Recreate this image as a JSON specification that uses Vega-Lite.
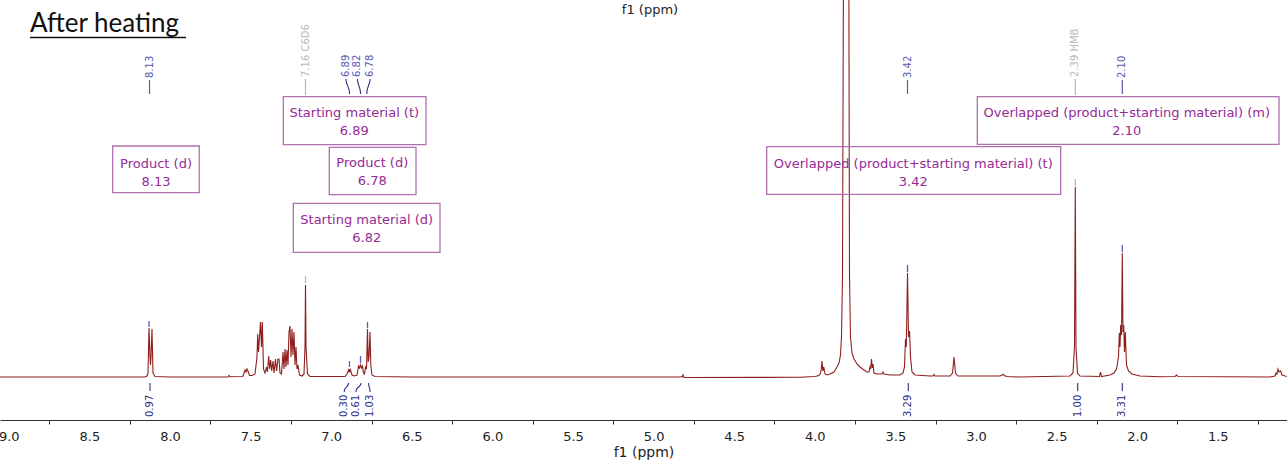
{
  "$schema": "https://vega.github.io/schema/vega-lite/v6.json",
  "width": 1287,
  "height": 420,
  "autosize": {"type": "none"},
  "padding": {"left": 0, "right": 0, "top": 0, "bottom": 43},
  "background": "white",
  "config": {"view": {"stroke": null}, "font": "DejaVu Sans"},
  "datasets": {
    "spec": [
      {"ppm": 9.1, "i": 0}, {"ppm": 8.1551, "i": 0}, {"ppm": 8.1427, "i": 1}, {"ppm": 8.1365, "i": 4}, {"ppm": 8.1303, "i": 49}, {"ppm": 8.1241, "i": 20}, {"ppm": 8.121, "i": 12}, {"ppm": 8.1179, "i": 20}, {"ppm": 8.1117, "i": 48}, {"ppm": 8.1055, "i": 4}, {"ppm": 8.0931, "i": 0.5}, {"ppm": 8.0, "i": 0},
      {"ppm": 7.6402, "i": 0}, {"ppm": 7.634, "i": 1.5}, {"ppm": 7.6278, "i": 0.3}, {"ppm": 7.5533, "i": 0.5}, {"ppm": 7.5471, "i": 1}, {"ppm": 7.5347, "i": 7}, {"ppm": 7.5285, "i": 5}, {"ppm": 7.5223, "i": 8}, {"ppm": 7.5161, "i": 6}, {"ppm": 7.5068, "i": 1.5}, {"ppm": 7.4913, "i": 1.5},
      {"ppm": 7.4727, "i": 3}, {"ppm": 7.4603, "i": 20}, {"ppm": 7.4559, "i": 43}, {"ppm": 7.451, "i": 25}, {"ppm": 7.4448, "i": 40}, {"ppm": 7.4386, "i": 55}, {"ppm": 7.4324, "i": 30}, {"ppm": 7.4274, "i": 55}, {"ppm": 7.42, "i": 8}, {"ppm": 7.4107, "i": 4},
      {"ppm": 7.4014, "i": 10}, {"ppm": 7.3952, "i": 5}, {"ppm": 7.3877, "i": 21}, {"ppm": 7.3815, "i": 8}, {"ppm": 7.3753, "i": 17}, {"ppm": 7.3691, "i": 6}, {"ppm": 7.361, "i": 16}, {"ppm": 7.3548, "i": 4}, {"ppm": 7.3455, "i": 18}, {"ppm": 7.3393, "i": 6}, {"ppm": 7.33, "i": 18}, {"ppm": 7.3238, "i": 18}, {"ppm": 7.3176, "i": 4}, {"ppm": 7.3083, "i": 3},
      {"ppm": 7.299, "i": 25}, {"ppm": 7.2928, "i": 8}, {"ppm": 7.2866, "i": 28}, {"ppm": 7.2804, "i": 10}, {"ppm": 7.2742, "i": 27}, {"ppm": 7.268, "i": 12}, {"ppm": 7.2618, "i": 45}, {"ppm": 7.2556, "i": 51}, {"ppm": 7.2494, "i": 20}, {"ppm": 7.2432, "i": 48}, {"ppm": 7.237, "i": 22}, {"ppm": 7.2308, "i": 45}, {"ppm": 7.2246, "i": 12}, {"ppm": 7.2184, "i": 30}, {"ppm": 7.2122, "i": 8}, {"ppm": 7.206, "i": 12}, {"ppm": 7.1966, "i": 2}, {"ppm": 7.1811, "i": 1},
      {"ppm": 7.1687, "i": 3}, {"ppm": 7.1625, "i": 30}, {"ppm": 7.1594, "i": 92}, {"ppm": 7.1563, "i": 30}, {"ppm": 7.147, "i": 3}, {"ppm": 7.1315, "i": 0.5},
      {"ppm": 6.9144, "i": 0.5}, {"ppm": 6.902, "i": 3}, {"ppm": 6.8927, "i": 7}, {"ppm": 6.8896, "i": 5}, {"ppm": 6.8865, "i": 8}, {"ppm": 6.8834, "i": 5}, {"ppm": 6.8803, "i": 7}, {"ppm": 6.871, "i": 2}, {"ppm": 6.8586, "i": 1},
      {"ppm": 6.84, "i": 2}, {"ppm": 6.8307, "i": 11}, {"ppm": 6.8245, "i": 9}, {"ppm": 6.8182, "i": 12}, {"ppm": 6.812, "i": 9}, {"ppm": 6.8058, "i": 11}, {"ppm": 6.7996, "i": 4}, {"ppm": 6.7934, "i": 3},
      {"ppm": 6.7872, "i": 10}, {"ppm": 6.781, "i": 8}, {"ppm": 6.7748, "i": 48}, {"ppm": 6.7705, "i": 15}, {"ppm": 6.7655, "i": 20}, {"ppm": 6.7593, "i": 45}, {"ppm": 6.7543, "i": 12}, {"ppm": 6.7469, "i": 2}, {"ppm": 6.7283, "i": 0.5}, {"ppm": 6.5, "i": 0},
      {"ppm": 4.8362, "i": 0}, {"ppm": 4.8207, "i": 0.5}, {"ppm": 4.8176, "i": 3}, {"ppm": 4.8145, "i": 0}, {"ppm": 4.8052, "i": -0.5}, {"ppm": 4.0918, "i": -0.3}, {"ppm": 3.9988, "i": 0.5}, {"ppm": 3.9739, "i": 1.5},
      {"ppm": 3.9646, "i": 4}, {"ppm": 3.9597, "i": 8}, {"ppm": 3.9553, "i": 16}, {"ppm": 3.9504, "i": 6}, {"ppm": 3.9442, "i": 10}, {"ppm": 3.9367, "i": 3}, {"ppm": 3.9243, "i": 2},
      {"ppm": 3.9057, "i": 3}, {"ppm": 3.8809, "i": 5}, {"ppm": 3.8623, "i": 10}, {"ppm": 3.8499, "i": 14}, {"ppm": 3.8406, "i": 22}, {"ppm": 3.8344, "i": 40}, {"ppm": 3.8282, "i": 100}, {"ppm": 3.822, "i": 420}, {"ppm": 3.8065, "i": 2000}, {"ppm": 3.7891, "i": 420}, {"ppm": 3.7847, "i": 100}, {"ppm": 3.7785, "i": 40}, {"ppm": 3.7692, "i": 24}, {"ppm": 3.7568, "i": 18}, {"ppm": 3.7382, "i": 13}, {"ppm": 3.7196, "i": 10}, {"ppm": 3.6948, "i": 7}, {"ppm": 3.6762, "i": 5},
      {"ppm": 3.6638, "i": 5}, {"ppm": 3.6576, "i": 10}, {"ppm": 3.6532, "i": 8}, {"ppm": 3.6483, "i": 18}, {"ppm": 3.6433, "i": 9}, {"ppm": 3.639, "i": 13}, {"ppm": 3.6328, "i": 4}, {"ppm": 3.6141, "i": 3},
      {"ppm": 3.5831, "i": 3}, {"ppm": 3.5769, "i": 5}, {"ppm": 3.5707, "i": 3}, {"ppm": 3.5335, "i": 2}, {"ppm": 3.4715, "i": 2}, {"ppm": 3.4529, "i": 4},
      {"ppm": 3.4436, "i": 10}, {"ppm": 3.4373, "i": 38}, {"ppm": 3.4324, "i": 30}, {"ppm": 3.4249, "i": 104}, {"ppm": 3.4187, "i": 40}, {"ppm": 3.4125, "i": 46}, {"ppm": 3.4063, "i": 20}, {"ppm": 3.397, "i": 5}, {"ppm": 3.3784, "i": 2}, {"ppm": 3.2854, "i": 1},
      {"ppm": 3.2667, "i": 1}, {"ppm": 3.2605, "i": 2.5}, {"ppm": 3.2543, "i": 1}, {"ppm": 3.1613, "i": 1}, {"ppm": 3.1458, "i": 4}, {"ppm": 3.1365, "i": 20}, {"ppm": 3.1272, "i": 4}, {"ppm": 3.1117, "i": 1},
      {"ppm": 2.8511, "i": 1}, {"ppm": 2.8325, "i": 2.5}, {"ppm": 2.8139, "i": 0.5}, {"ppm": 2.7271, "i": 0},
      {"ppm": 2.4169, "i": 1}, {"ppm": 2.3983, "i": 4}, {"ppm": 2.389, "i": 30}, {"ppm": 2.384, "i": 190}, {"ppm": 2.3797, "i": 30}, {"ppm": 2.3704, "i": 4}, {"ppm": 2.3548, "i": 1},
      {"ppm": 2.2339, "i": 0.5}, {"ppm": 2.2277, "i": 5}, {"ppm": 2.2215, "i": 0.5},
      {"ppm": 2.1687, "i": 2}, {"ppm": 2.1439, "i": 4}, {"ppm": 2.1284, "i": 8}, {"ppm": 2.116, "i": 20}, {"ppm": 2.111, "i": 44}, {"ppm": 2.1067, "i": 30}, {"ppm": 2.1024, "i": 52}, {"ppm": 2.0974, "i": 42}, {"ppm": 2.0924, "i": 124}, {"ppm": 2.0881, "i": 45}, {"ppm": 2.0838, "i": 52}, {"ppm": 2.0788, "i": 25}, {"ppm": 2.0738, "i": 45}, {"ppm": 2.0664, "i": 12}, {"ppm": 2.054, "i": 6}, {"ppm": 2.0323, "i": 3}, {"ppm": 1.9826, "i": 1},
      {"ppm": 1.8586, "i": 0.3}, {"ppm": 1.7655, "i": 0.5}, {"ppm": 1.755, "i": 2}, {"ppm": 1.7469, "i": 0.5},
      {"ppm": 1.1762, "i": 0}, {"ppm": 1.1452, "i": 1}, {"ppm": 1.139, "i": 4}, {"ppm": 1.1328, "i": 3}, {"ppm": 1.1266, "i": 8}, {"ppm": 1.1203, "i": 5}, {"ppm": 1.1098, "i": 6}, {"ppm": 1.1017, "i": 2}, {"ppm": 1.0831, "i": 1}, {"ppm": 1.0521, "i": 0.5}
    ],
    "pmarks": [
      {"ppm": 8.1303, "i": 50, "i2": 56, "kind": "peak"},
      {"ppm": 7.1594, "i": 94, "i2": 101, "kind": "ref"},
      {"ppm": 6.8865, "i": 10, "i2": 16, "kind": "peak"},
      {"ppm": 6.8182, "i": 14, "i2": 21, "kind": "peak"},
      {"ppm": 6.7748, "i": 49, "i2": 55, "kind": "peak"},
      {"ppm": 3.4249, "i": 105, "i2": 112, "kind": "peak"},
      {"ppm": 2.384, "i": 191, "i2": 198, "kind": "ref"},
      {"ppm": 2.0924, "i": 125, "i2": 132, "kind": "peak"}
    ],
    "plabels": [
      {"ppm": 8.127, "i": 299, "label": "8.13", "kind": "peak"},
      {"ppm": 7.1594, "i": 300, "label": "7.16 C6D6", "kind": "ref"},
      {"ppm": 6.9082, "i": 300, "label": "6.89", "kind": "peak"},
      {"ppm": 6.8369, "i": 300, "label": "6.82", "kind": "peak"},
      {"ppm": 6.7593, "i": 300, "label": "6.78", "kind": "peak"},
      {"ppm": 3.4249, "i": 299, "label": "3.42", "kind": "peak"},
      {"ppm": 2.384, "i": 300, "label": "2.39 HMB", "kind": "ref"},
      {"ppm": 2.0924, "i": 299, "label": "2.10", "kind": "peak"}
    ],
    "pleads": [
      {"ppm": 8.127, "i": 297, "i2": 283, "kind": "peak"},
      {"ppm": 7.1594, "i": 298, "i2": 282, "kind": "ref"},
      {"ppm": 3.4249, "i": 297, "i2": 283, "kind": "peak"},
      {"ppm": 2.384, "i": 298, "i2": 282, "kind": "ref"},
      {"ppm": 2.0924, "i": 297, "i2": 283, "kind": "peak"}
    ],
    "pcurves": [
      {"id": "a", "ppm": 6.9082, "i": 298}, {"id": "a", "ppm": 6.9082, "i": 295}, {"id": "a", "ppm": 6.8865, "i": 287}, {"id": "a", "ppm": 6.8865, "i": 283},
      {"id": "b", "ppm": 6.8369, "i": 298}, {"id": "b", "ppm": 6.8369, "i": 295}, {"id": "b", "ppm": 6.8182, "i": 287}, {"id": "b", "ppm": 6.8182, "i": 283},
      {"id": "c", "ppm": 6.7593, "i": 298}, {"id": "c", "ppm": 6.7593, "i": 295}, {"id": "c", "ppm": 6.7792, "i": 287}, {"id": "c", "ppm": 6.7792, "i": 283}
    ],
    "boxes": [
      {"ppm": 8.3555, "ppm2": 7.8186, "i": 231, "i2": 184.3},
      {"ppm": 7.2971, "ppm2": 6.4119, "i": 280.3, "i2": 232.3},
      {"ppm": 7.0118, "ppm2": 6.4739, "i": 229.7, "i2": 182.3},
      {"ppm": 7.2351, "ppm2": 6.3251, "i": 173.7, "i2": 124.7},
      {"ppm": 4.2984, "ppm2": 2.4746, "i": 230.3, "i2": 182.7},
      {"ppm": 2.9919, "ppm2": 1.1203, "i": 280.3, "i2": 232.7}
    ],
    "boxtext": [
      {"ppm": 8.0868, "i": 213.5, "label": "Product (d)\n8.13"},
      {"ppm": 6.8567, "i": 264.5, "label": "Starting material (t)\n6.89"},
      {"ppm": 6.745, "i": 213.7, "label": "Product (d)\n6.78"},
      {"ppm": 6.7798, "i": 157, "label": "Starting material (d)\n6.82"},
      {"ppm": 3.3889, "i": 213.5, "label": "Overlapped (product+starting material) (t)\n3.42"},
      {"ppm": 2.065, "i": 263.7, "label": "Overlapped (product+starting material) (m)\n2.10"}
    ],
    "integ": [
      {"ppm": 8.1445, "ppm2": 8.093},
      {"ppm": 6.9206, "ppm2": 6.8648},
      {"ppm": 6.8337, "ppm2": 6.7965},
      {"ppm": 6.7903, "ppm2": 6.7469},
      {"ppm": 3.4547, "ppm2": 3.3846},
      {"ppm": 2.4001, "ppm2": 2.3406},
      {"ppm": 2.121, "ppm2": 2.0589}
    ],
    "iends": [
      {"ppm": 8.1445}, {"ppm": 8.093}, {"ppm": 6.9206}, {"ppm": 6.8648}, {"ppm": 6.8337}, {"ppm": 6.7965}, {"ppm": 6.7903}, {"ppm": 6.7469},
      {"ppm": 3.4547}, {"ppm": 3.3846}, {"ppm": 2.4001}, {"ppm": 2.3406}, {"ppm": 2.121}, {"ppm": 2.0589}
    ],
    "iconn": [
      {"id": "a", "ppm": 8.124, "i": -6}, {"id": "a", "ppm": 8.124, "i": -14},
      {"id": "b", "ppm": 6.8927, "i": -6}, {"id": "b", "ppm": 6.8927, "i": -8}, {"id": "b", "ppm": 6.919, "i": -12}, {"id": "b", "ppm": 6.919, "i": -15},
      {"id": "c", "ppm": 6.8151, "i": -6}, {"id": "c", "ppm": 6.8151, "i": -8}, {"id": "c", "ppm": 6.8462, "i": -12}, {"id": "c", "ppm": 6.8462, "i": -15},
      {"id": "d", "ppm": 6.7686, "i": -6}, {"id": "d", "ppm": 6.7686, "i": -8}, {"id": "d", "ppm": 6.7593, "i": -12}, {"id": "d", "ppm": 6.7593, "i": -15},
      {"id": "e", "ppm": 3.4199, "i": -6}, {"id": "e", "ppm": 3.4199, "i": -14},
      {"id": "f", "ppm": 2.3691, "i": -6}, {"id": "f", "ppm": 2.3691, "i": -14},
      {"id": "g", "ppm": 2.0924, "i": -6}, {"id": "g", "ppm": 2.0924, "i": -14}
    ],
    "itext": [
      {"ppm": 8.124, "i": -40, "label": "0.97"},
      {"ppm": 6.919, "i": -40, "label": "0.30"},
      {"ppm": 6.8462, "i": -40, "label": "0.61"},
      {"ppm": 6.7593, "i": -40, "label": "1.03"},
      {"ppm": 3.4199, "i": -40, "label": "3.29"},
      {"ppm": 2.3691, "i": -40, "label": "1.00"},
      {"ppm": 2.0924, "i": -40, "label": "3.31"}
    ],
    "title": [{"ppm": 8.8685, "i": 345.3, "label": "After heating"}],
    "underline": [{"ppm": 8.8685, "ppm2": 7.9007, "i": 339.5}],
    "toptitle": [{"ppm": 5.0223, "i": 367, "label": "f1 (ppm)"}]
  },
  "encoding": {
    "x": {
      "field": "ppm", "type": "quantitative",
      "scale": {"domain": [1.0707, 9.0546], "reverse": true, "nice": false, "zero": false},
      "axis": {
        "values": [9.0, 8.75, 8.5, 8.25, 8.0, 7.75, 7.5, 7.25, 7.0, 6.75, 6.5, 6.25, 6.0, 5.75, 5.5, 5.25, 5.0, 4.75, 4.5, 4.25, 4.0, 3.75, 3.5, 3.25, 3.0, 2.75, 2.5, 2.25, 2.0, 1.75, 1.5, 1.25],
        "labelExpr": "(round(datum.value*4) % 2 == 0) ? format(datum.value, '.1f') : ''",
        "tickOpacity": {"condition": {"test": "round(datum.value*4) % 2 == 1", "value": 1}, "value": 0},
        "tickSize": 4,
        "tickColor": "#333333",
        "domainColor": "#333333",
        "grid": false,
        "labelFlush": false,
        "labelOverlap": false,
        "labelBound": false,
        "labelFont": "DejaVu Sans",
        "labelFontSize": 13,
        "labelColor": "#222222",
        "labelPadding": 6,
        "title": "f1 (ppm)",
        "titleFont": "DejaVu Sans",
        "titleFontSize": 14,
        "titleFontWeight": "normal",
        "titleColor": "#222222",
        "titlePadding": 2
      }
    },
    "y": {
      "field": "i", "type": "quantitative",
      "scale": {"domain": [-43, 377], "nice": false, "zero": false},
      "axis": null
    }
  },
  "layer": [
    {
      "data": {"name": "spec"},
      "mark": {"type": "line", "clip": true, "stroke": "#8f1f1f", "strokeWidth": 1.1, "interpolate": "linear"}
    },
    {
      "data": {"name": "pmarks"},
      "mark": {"type": "rule", "strokeWidth": 1.3},
      "encoding": {
        "y2": {"field": "i2"},
        "color": {"field": "kind", "type": "nominal", "scale": {"domain": ["peak", "ref"], "range": ["#5a5ab0", "#b8b8b8"]}, "legend": null}
      }
    },
    {
      "data": {"name": "pleads"},
      "mark": {"type": "rule", "strokeWidth": 1.2},
      "encoding": {
        "y2": {"field": "i2"},
        "color": {"field": "kind", "type": "nominal", "scale": {"domain": ["peak", "ref"], "range": ["#2d2d8a", "#a8a8a8"]}, "legend": null}
      }
    },
    {
      "data": {"name": "pcurves"},
      "mark": {"type": "line", "stroke": "#2d2d8a", "strokeWidth": 1.1, "interpolate": "basis"},
      "encoding": {"detail": {"field": "id"}, "order": {"field": "i", "sort": "descending"}}
    },
    {
      "data": {"name": "plabels"},
      "mark": {"type": "text", "angle": 270, "align": "left", "baseline": "middle", "font": "DejaVu Sans", "fontSize": 10},
      "encoding": {
        "text": {"field": "label"},
        "color": {"field": "kind", "type": "nominal", "scale": {"domain": ["peak", "ref"], "range": ["#2d2d8a", "#a8a8a8"]}, "legend": null}
      }
    },
    {
      "data": {"name": "boxes"},
      "mark": {"type": "rect", "fill": "transparent", "stroke": "#b070b0", "strokeWidth": 1.3},
      "encoding": {"x2": {"field": "ppm2"}, "y2": {"field": "i2"}}
    },
    {
      "data": {"name": "boxtext"},
      "mark": {"type": "text", "align": "center", "baseline": "middle", "font": "DejaVu Sans", "fontSize": 13, "lineBreak": "\n", "lineHeight": 18, "color": "#952a95"},
      "encoding": {"text": {"field": "label"}}
    },
    {
      "data": {"name": "integ"},
      "mark": {"type": "rule", "stroke": "#3aa53a", "strokeWidth": 1.2},
      "encoding": {"x2": {"field": "ppm2"}, "y": {"datum": -4}}
    },
    {
      "data": {"name": "iends"},
      "mark": {"type": "rule", "stroke": "#3aa53a", "strokeWidth": 1.2},
      "encoding": {"y": {"datum": -1.5}, "y2": {"datum": -7}}
    },
    {
      "data": {"name": "iconn"},
      "mark": {"type": "line", "stroke": "#2d2d8a", "strokeWidth": 1.1, "interpolate": "basis"},
      "encoding": {"detail": {"field": "id"}, "order": {"field": "i", "sort": "descending"}}
    },
    {
      "data": {"name": "itext"},
      "mark": {"type": "text", "angle": 270, "align": "left", "baseline": "middle", "font": "DejaVu Sans", "fontSize": 10, "color": "#2d2d8a"},
      "encoding": {"text": {"field": "label"}}
    },
    {
      "data": {"name": "title"},
      "mark": {"type": "text", "align": "left", "baseline": "alphabetic", "font": "Lato", "fontSize": 26, "color": "#111111"},
      "encoding": {"text": {"field": "label"}}
    },
    {
      "data": {"name": "underline"},
      "mark": {"type": "rule", "stroke": "#111111", "strokeWidth": 1.5},
      "encoding": {"x2": {"field": "ppm2"}}
    },
    {
      "data": {"name": "toptitle"},
      "mark": {"type": "text", "align": "center", "baseline": "middle", "font": "DejaVu Sans", "fontSize": 13, "color": "#222222"},
      "encoding": {"text": {"field": "label"}}
    }
  ]
}
